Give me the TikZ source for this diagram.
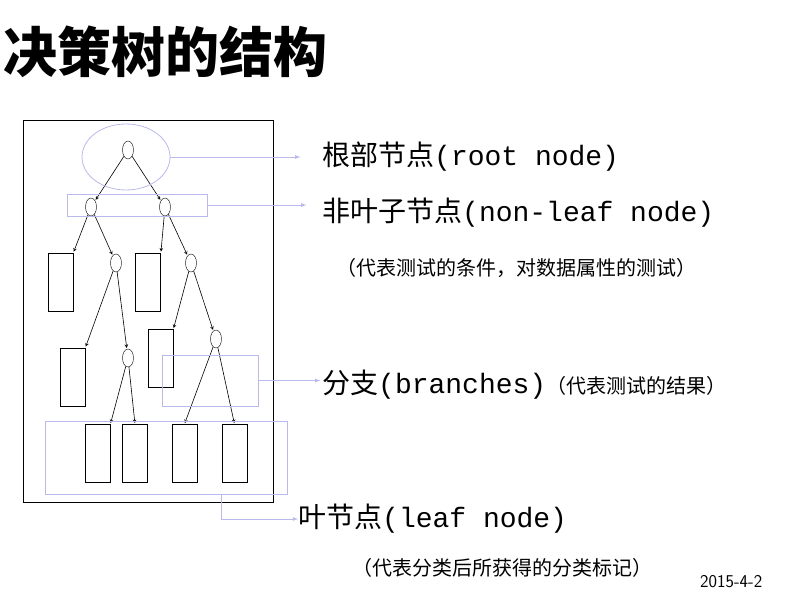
\documentclass[tikz,border=0pt]{standalone}
\usepackage{fontspec}
\setmainfont{Liberation Serif}
\newfontfamily\cjk{Noto Sans CJK SC}
\newfontfamily\lat{Liberation Mono}
\usetikzlibrary{shapes, arrows, calc, positioning}
\definecolor{lav}{RGB}{185,185,235}
\tikzset{
  tnode/.style={draw, ellipse, minimum width=11pt, minimum height=18pt, inner sep=0pt},
  leaf/.style={draw, thick, minimum width=25pt, minimum height=58pt, inner sep=0pt},
  edge/.style={->, >=stealth, semithick, shorten >=1pt},
  hilite/.style={draw=lav, thick},
  pointer/.style={draw=lav, thick, ->, >=latex},
}
\begin{document}
\begin{tikzpicture}[x=1pt, y=-1pt]
                \useasboundingbox (0,0) rectangle (796,594);
                \node (title) [anchor=west, inner sep=0pt, font=\cjk\bfseries\fontsize{54}{58}\selectfont] at (3,52) {决策树的结构};
                \draw (23,120) rectangle (273,502);

                % tree
                \node (R) [tnode] at (128,150) {};
                \node (A) [tnode] at (91,207) {};
                \node (B) [tnode] at (165,207) {};
                \node (L1) [leaf] at (60.5,282) {};
                \node (C) [tnode] at (116,263) {};
                \node (L2) [leaf] at (148,282) {};
                \node (D) [tnode] at (191,263) {};
                \node (L3) [leaf] at (72.5,377) {};
                \node (E) [tnode] at (128,358) {};
                \node (L4) [leaf] at (160.5,358.5) {};
                \node (F) [tnode] at (216,339) {};
                \node (L5) [leaf] at (97.5,453.5) {};
                \node (L6) [leaf] at (135,453.5) {};
                \node (L7) [leaf] at (184.5,453.5) {};
                \node (L8) [leaf] at (234.5,453.5) {};

                \draw [edge] (R) -- (A);
                \draw [edge] (R) -- (B);
                \draw [edge] (A) -- (L1.north east);
                \draw [edge] (A) -- (C);
                \draw [edge] (B) -- (L2.north east);
                \draw [edge] (B) -- (D);
                \draw [edge] (C) -- (L3.north east);
                \draw [edge] (C) -- (E);
                \draw [edge] (D) -- (L4.north east);
                \draw [edge] (D) -- (F);
                \draw [edge] (E) -- (L5.north east);
                \draw [edge] (E) -- (L6.north);
                \draw [edge] (F) -- (L7.north);
                \draw [edge] (F) -- (L8.north);

                % markers
                \node (mroot) [hilite, ellipse, minimum width=88pt, minimum height=66pt] at (126,157) {};
                \node (minner) [hilite, rectangle, minimum width=140pt, minimum height=22pt, inner sep=0pt] at (137,205) {};
                \node (mbranch) [hilite, rectangle, minimum width=96pt, minimum height=51pt, inner sep=0pt] at (210,380.5) {};
                \node (mleaf) [hilite, rectangle, minimum width=242pt, minimum height=73pt, inner sep=0pt] at (166,457.5) {};

                % labels
                \node (troot) [anchor=west, inner sep=0pt, font=\fontsize{28}{32}\selectfont] at (322,157) {\cjk 根部节点\lat(root node)};
                \node (tinner) [anchor=west, inner sep=0pt, font=\fontsize{28}{32}\selectfont] at (322,213) {\cjk 非叶子节点\lat(non-leaf node)};
                \node (tinner2) [anchor=west, inner sep=0pt, font=\cjk\fontsize{20}{24}\selectfont] at (336,268) {（代表测试的条件，对数据属性的测试）};
                \node (tbranch) [anchor=west, inner sep=0pt, font=\fontsize{28}{32}\selectfont] at (322,385) {\cjk 分支\lat(branches)\cjk\fontsize{20}{24}\selectfont（代表测试的结果）};
                \node (tleaf) [anchor=west, inner sep=0pt, font=\fontsize{28}{32}\selectfont] at (298,519) {\cjk 叶节点\lat(leaf node)};
                \node (tleaf2) [anchor=west, inner sep=0pt, font=\cjk\fontsize{20}{24}\selectfont] at (352,568) {（代表分类后所获得的分类标记）};
                \node (date) [anchor=west, inner sep=0pt, font=\sffamily\fontsize{18}{20}\selectfont] at (700,582) {2015-4-2};

                \draw [pointer] (mroot.east) -- ++(130,0);
                \draw [pointer] (minner.east) -- ++(99,0);
                \draw [pointer] (mbranch.east) -- ++(62,0);
                \draw [pointer] (221,494) |- (tleaf.west);
\end{tikzpicture}
\end{document}
